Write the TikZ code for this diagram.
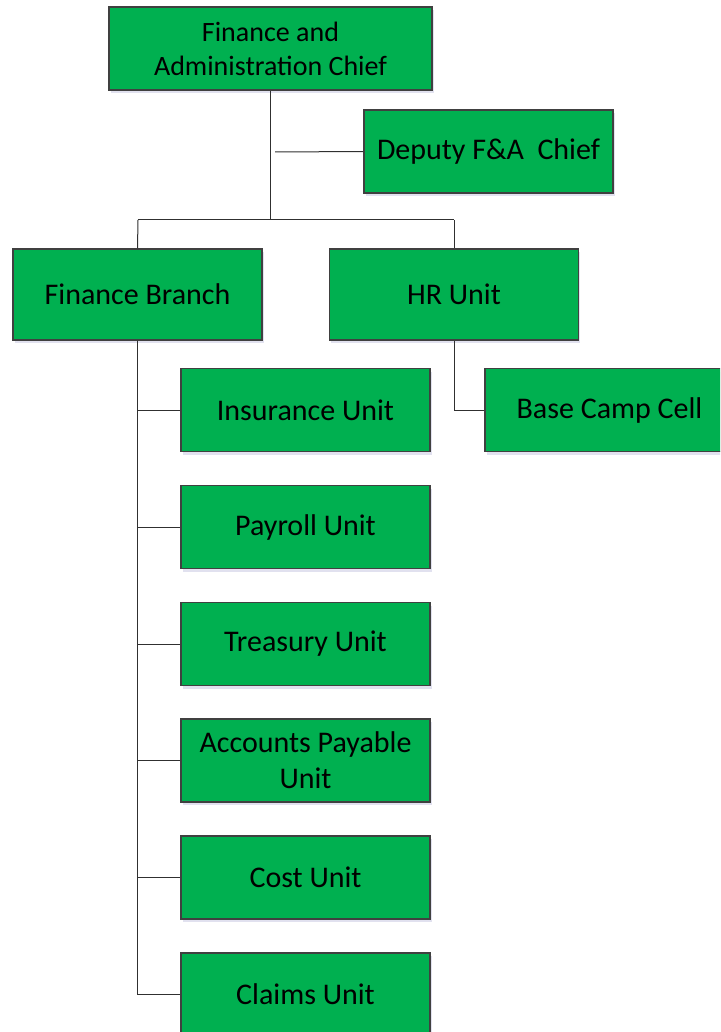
\documentclass[tikz,border=0pt]{standalone}
\usepackage{fontspec}
\setmainfont{Carlito}
\usetikzlibrary{shadows}
\definecolor{unitgreen}{HTML}{00B050}
\definecolor{boxedge}{HTML}{404040}
\definecolor{linkgray}{HTML}{303030}
\tikzset{
  unitbox/.style={draw=boxedge, fill=unitgreen, line width=1.1pt,
    minimum width=249pt, minimum height=83pt, inner sep=0pt, align=center,
    font=\fontsize{30}{36}\selectfont,
    drop shadow={shadow xshift=1.5pt, shadow yshift=-3pt, opacity=0.18, fill=blue!30!gray}},
  link/.style={draw=linkgray, line width=1pt}
}
\begin{document}
\begin{tikzpicture}[x=1pt, y=-1pt]
  \useasboundingbox (0,0) rectangle (720,1032);
  \clip (0,0) rectangle (720,1032);
  % top of the chart
  \node[unitbox, minimum width=323pt, font=\fontsize{28}{34}\selectfont] (chief) at (270.5,48.5) {Finance and\\Administration Chief};
  \node[unitbox] (deputy) at (488.5,151.5) {Deputy F\&A\ \ Chief};
  \node[unitbox, minimum height=91pt] (fin) at (137.5,294.5) {Finance Branch};
  \node[unitbox, minimum height=91pt] (hr) at (454,294.5) {HR Unit};
  \node[unitbox] (base) at (609.5,410) {Base Camp Cell};
  % units under the finance branch
  \node[unitbox] (ins) at (305.5,410) {Insurance Unit};
  \node[unitbox] (pay) at (305.5,527) {Payroll Unit};
  \node[unitbox] (tre) at (305.5,644) {Treasury Unit};
  \node[unitbox] (acc) at (305.5,760.5) {Accounts Payable\\Unit};
  \node[unitbox] (cost) at (305.5,877.5) {Cost Unit};
  \node[unitbox] (claims) at (305.5,994.5) {Claims Unit};
  % connectors
  \coordinate (busL) at (138,220);
  \coordinate (busM) at (270.5,220);
  \coordinate (busR) at (454,220);
  \coordinate (dtap) at (275,152);
  \path[link] (chief.south) -- (busM);
  \path[link] (busL) -- (busR);
  \path[link] (busL) -- (fin.north);
  \path[link] (busR) -- (hr.north);
  \path[link] (dtap) -- (deputy.west);
  \path[link] (hr.south) |- (base.west);
  \path[link] (fin.south) |- (ins.west);
  \path[link] (fin.south) |- (pay.west);
  \path[link] (fin.south) |- (tre.west);
  \path[link] (fin.south) |- (acc.west);
  \path[link] (fin.south) |- (cost.west);
  \path[link] (fin.south) |- (claims.west);
\end{tikzpicture}
\end{document}
